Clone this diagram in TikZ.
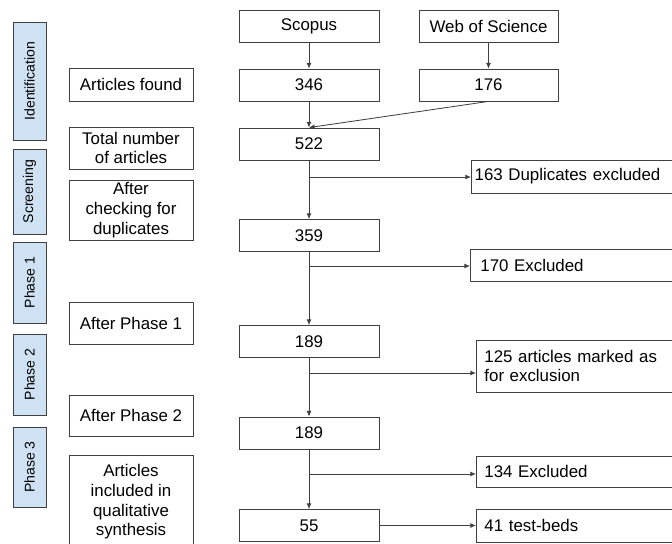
\documentclass[tikz,border=0pt]{standalone}
\usepackage{fontspec}
\setmainfont{Liberation Sans}
\usetikzlibrary{arrows.meta}
\definecolor{stageblue}{HTML}{CFE2F3}
\definecolor{lineg}{HTML}{404040}

\tikzset{
	stagebox/.style={draw=lineg, fill=stageblue, line width=0.6pt, minimum height=0.825cm, rotate=90, font=\fontsize{10}{12}\selectfont},
	notebox/.style={draw=lineg, line width=0.6pt, minimum width=3.1cm, align=center, inner sep=1pt, font=\fontsize{12}{14}\selectfont},
	countbox/.style={draw=lineg, line width=0.6pt, minimum width=3.5cm, minimum height=0.8cm, font=\fontsize{12}{14}\selectfont},
	exclbox/.style={draw=lineg, line width=0.6pt, anchor=west, text width=5.4cm, inner xsep=0.2cm, align=left, font=\fontsize{12}{14}\selectfont},
	flow/.style={draw=lineg, line width=0.6pt, -{Latex[length=4pt,width=3.5pt]}}
}

\begin{document}
\begin{tikzpicture}[x=0.025cm, y=-0.025cm]
			\useasboundingbox (0,0) rectangle (672,544);
			\clip (0,0) rectangle (672,544);
			% phases
			\node [stagebox, minimum width=2.95cm] (ident) at (29.5,81) {Identification};
			\node [stagebox, minimum width=2.125cm] (screen) at (29.5,191.5) {Screening};
			\node [stagebox, minimum width=2.025cm] (ph1) at (29.5,282.5) {Phase 1};
			\node [stagebox, minimum width=2.025cm] (ph2) at (29.5,374.5) {Phase 2};
			\node [stagebox, minimum width=2cm] (ph3) at (29.5,467) {Phase 3};
			% left column
			\node [notebox, minimum height=0.825cm] (found) at (131,84.5) {Articles found};
			\node [notebox, minimum height=1.05cm] (total) at (131,148) {Total number\\of articles};
			\node [notebox, minimum height=1.5cm] (dupl) at (131,210) {After\\checking for\\duplicates};
			\node [notebox, minimum height=1.05cm] (after1) at (131,323) {After Phase 1};
			\node [notebox, minimum height=1.025cm] (after2) at (131,415.5) {After Phase 2};
			\node [notebox, minimum height=2.35cm] (incl) at (131,502) {Articles\\included in\\qualitative\\synthesis};
			% sources and counts
			\node [countbox] (scopus) at (309,26) {Scopus};
			\node [countbox, minimum width=3.475cm] (wos) at (488.5,26) {Web of Science};
			\node [countbox] (n346) at (309,85) {346};
			\node [countbox, minimum width=3.475cm] (n176) at (488.5,85) {176};
			\node [countbox] (n522) at (309,144) {522};
			\node [countbox] (n359) at (309,235.5) {359};
			\node [countbox] (n189) at (309,341.5) {189};
			\node [countbox] (n189b) at (309,433) {189};
			\node [countbox] (n55) at (309,525.5) {55};
			% exclusions
			\node [exclbox, minimum height=0.825cm, inner xsep=0.08cm] (ex163) at (471,176.5) {163 Duplicates excluded};
			\node [exclbox, minimum height=0.8cm, inner xsep=0.25cm] (ex170) at (470,265) {170 Excluded};
			\node [exclbox, minimum height=1.3cm] (ex125) at (476,366) {125 articles marked as\\for exclusion};
			\node [exclbox, minimum height=0.775cm] (ex134) at (476,471.5) {134 Excluded};
			\node [exclbox, minimum height=0.825cm] (tb41) at (476,525.5) {41 test-beds};
			% branch points
			\coordinate (b1) at (309,177);
			\coordinate (b2) at (309,266);
			\coordinate (b3) at (309,373);
			\coordinate (b4) at (309,474);
			\draw[flow](scopus) -- (n346);
			\draw[flow](wos) -- (n176);
			\draw[flow](n346) -- (n522);
			\draw[flow](n176.south) -- (n522.north);
			\draw[flow](n522) -- (n359);
			\draw[flow](n359) -- (n189);
			\draw[flow](n189) -- (n189b);
			\draw[flow](n189b) -- (n55);
			\draw[flow](b1) -- (ex163.west |- b1);
			\draw[flow](b2) -- (ex170.west |- b2);
			\draw[flow](b3) -- (ex125.west |- b3);
			\draw[flow](b4) -- (ex134.west |- b4);
			\draw[flow](n55) -- (tb41);
		\end{tikzpicture}
\end{document}
